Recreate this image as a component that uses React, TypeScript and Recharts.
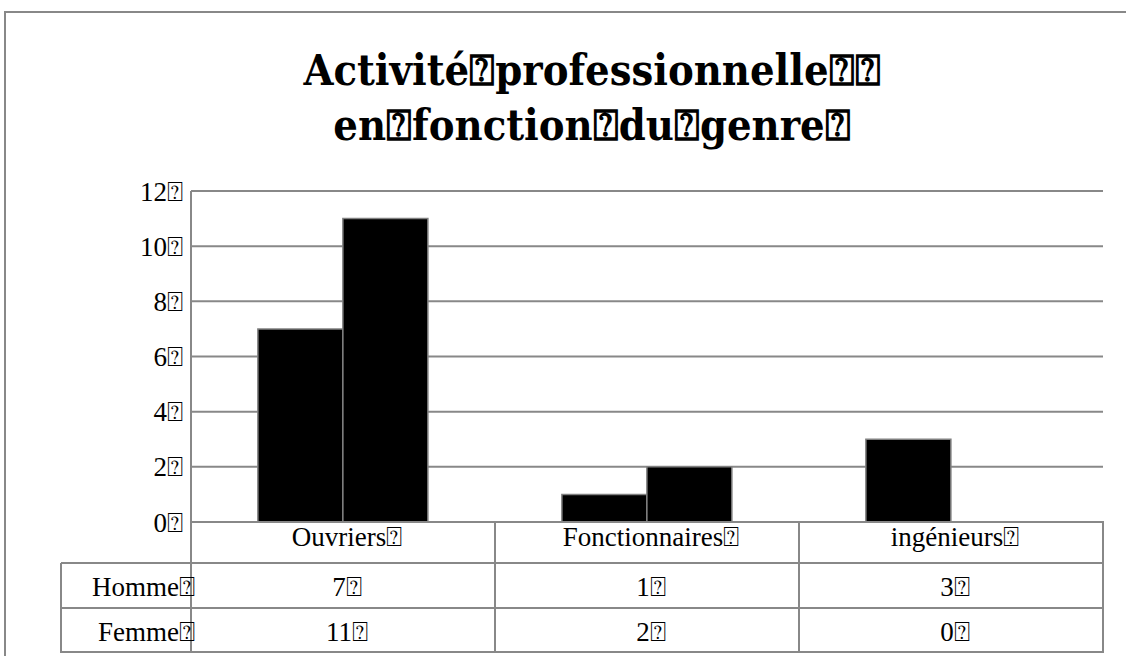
import { BarChart, Bar, XAxis, YAxis, CartesianGrid } from "recharts";

const BOX = "\u2370";

const categories = ["Ouvriers", "Fonctionnaires", "ingénieurs"];
const hommeValues = [7, 1, 3];
const femmeValues = [11, 2, 0];
const seriesNames = ["Homme", "Femme"];
const yTicks = [0, 2, 4, 6, 8, 10, 12];
const titleLines = [
  `Activité${BOX}professionnelle${BOX}${BOX}`,
  `en${BOX}fonction${BOX}du${BOX}genre${BOX}`,
];

const data = categories.map((name, i) => ({
  name,
  Homme: hommeValues[i],
  Femme: femmeValues[i],
}));

const W = 1126;
const H = 656;
const PLOT_LEFT = 191;
const PLOT_RIGHT = 1103;
const PLOT_TOP = 191;
const PLOT_BOTTOM = 522;
const GRID = "#888888";
const TEXT_FONT = "'Liberation Serif', 'Times New Roman', serif";
const TEXT_SIZE = 27;

// table rows under the plot: header, Homme, Femme
const rowEdges = [522, 563, 608, 652];
const rowBaselines = [546, 596, 641];
const LABEL_LEFT = 61;

function DataTable() {
  const colW = (PLOT_RIGHT - PLOT_LEFT) / categories.length;
  const colEdges = categories.map((_, i) => PLOT_LEFT + i * colW).concat(PLOT_RIGHT);
  const rows = [hommeValues, femmeValues];
  return (
    <svg
      width={W}
      height={H}
      style={{ position: "absolute", left: 0, top: 0, pointerEvents: "none" }}
    >
      {/* horizontal lines */}
      <line x1={PLOT_LEFT} x2={PLOT_RIGHT + 1} y1={rowEdges[0]} y2={rowEdges[0]} stroke={GRID} strokeWidth={2} />
      {rowEdges.slice(1).map((y) => (
        <line key={y} x1={LABEL_LEFT} x2={PLOT_RIGHT + 1} y1={y} y2={y} stroke={GRID} strokeWidth={2} />
      ))}
      {/* vertical lines */}
      <line x1={LABEL_LEFT} x2={LABEL_LEFT} y1={rowEdges[1]} y2={rowEdges[3] + 1} stroke={GRID} strokeWidth={2} />
      {colEdges.map((x) => (
        <line key={x} x1={x} x2={x} y1={rowEdges[0]} y2={rowEdges[3] + 1} stroke={GRID} strokeWidth={2} />
      ))}
      {/* header */}
      {categories.map((c, i) => (
        <text
          key={c}
          x={(colEdges[i] + colEdges[i + 1]) / 2 + 4}
          y={rowBaselines[0]}
          textAnchor="middle"
          fontFamily={TEXT_FONT}
          fontSize={TEXT_SIZE}
          fill="#000"
        >
          {c + BOX}
        </text>
      ))}
      {rows.map((vals, r) => (
        <g key={seriesNames[r]}>
          <text
            x={PLOT_LEFT + 4}
            y={rowBaselines[r + 1]}
            textAnchor="end"
            fontFamily={TEXT_FONT}
            fontSize={TEXT_SIZE}
            fill="#000"
          >
            {seriesNames[r] + BOX}
          </text>
          {vals.map((v, i) => (
            <text
              key={i}
              x={(colEdges[i] + colEdges[i + 1]) / 2 + 4}
              y={rowBaselines[r + 1]}
              textAnchor="middle"
              fontFamily={TEXT_FONT}
              fontSize={TEXT_SIZE}
              fill="#000"
            >
              {v + BOX}
            </text>
          ))}
        </g>
      ))}
    </svg>
  );
}

export default function App() {
  return (
    <div
      style={{
        position: "fixed",
        left: 0,
        top: 0,
        width: W,
        height: H,
        overflow: "hidden",
        background: "#fff",
      }}
    >
      {/* chart frame, cropped on the right and bottom */}
      <div
        style={{
          position: "absolute",
          left: 4,
          top: 11,
          width: W + 40,
          height: H + 40,
          border: `2px solid ${GRID}`,
          boxSizing: "border-box",
        }}
      />
      <div
        style={{
          position: "absolute",
          left: 92,
          top: 43,
          width: 1000,
          textAlign: "center",
          fontFamily: "'DejaVu Serif Condensed', 'DejaVu Serif', serif",
          fontStretch: "condensed",
          fontWeight: "bold",
          fontSize: 43,
          lineHeight: "55px",
          color: "#000",
        }}
      >
        {titleLines.map((t) => (
          <div key={t}>{t}</div>
        ))}
      </div>
      <div style={{ position: "absolute", left: 0, top: 0 }}>
        <BarChart
          width={W}
          height={H}
          data={data}
          margin={{ top: PLOT_TOP, right: W - PLOT_RIGHT, bottom: H - PLOT_BOTTOM, left: 0 }}
          barCategoryGap="22%"
          barGap={0}
        >
          <CartesianGrid vertical={false} stroke={GRID} strokeWidth={2} />
          <XAxis dataKey="name" hide />
          <YAxis
            width={PLOT_LEFT}
            domain={[0, 12]}
            ticks={yTicks}
            interval={0}
            tickLine={false}
            axisLine={{ stroke: GRID, strokeWidth: 2 }}
            tick={{ fill: "#000", fontSize: TEXT_SIZE, fontFamily: TEXT_FONT }}
            tickFormatter={(v: number) => `${v}${BOX}`}
          />
          <Bar dataKey="Homme" fill="#000" stroke="#808080" strokeWidth={1.5} isAnimationActive={false} />
          <Bar dataKey="Femme" fill="#000" stroke="#808080" strokeWidth={1.5} isAnimationActive={false} />
        </BarChart>
      </div>
      <DataTable />
    </div>
  );
}
